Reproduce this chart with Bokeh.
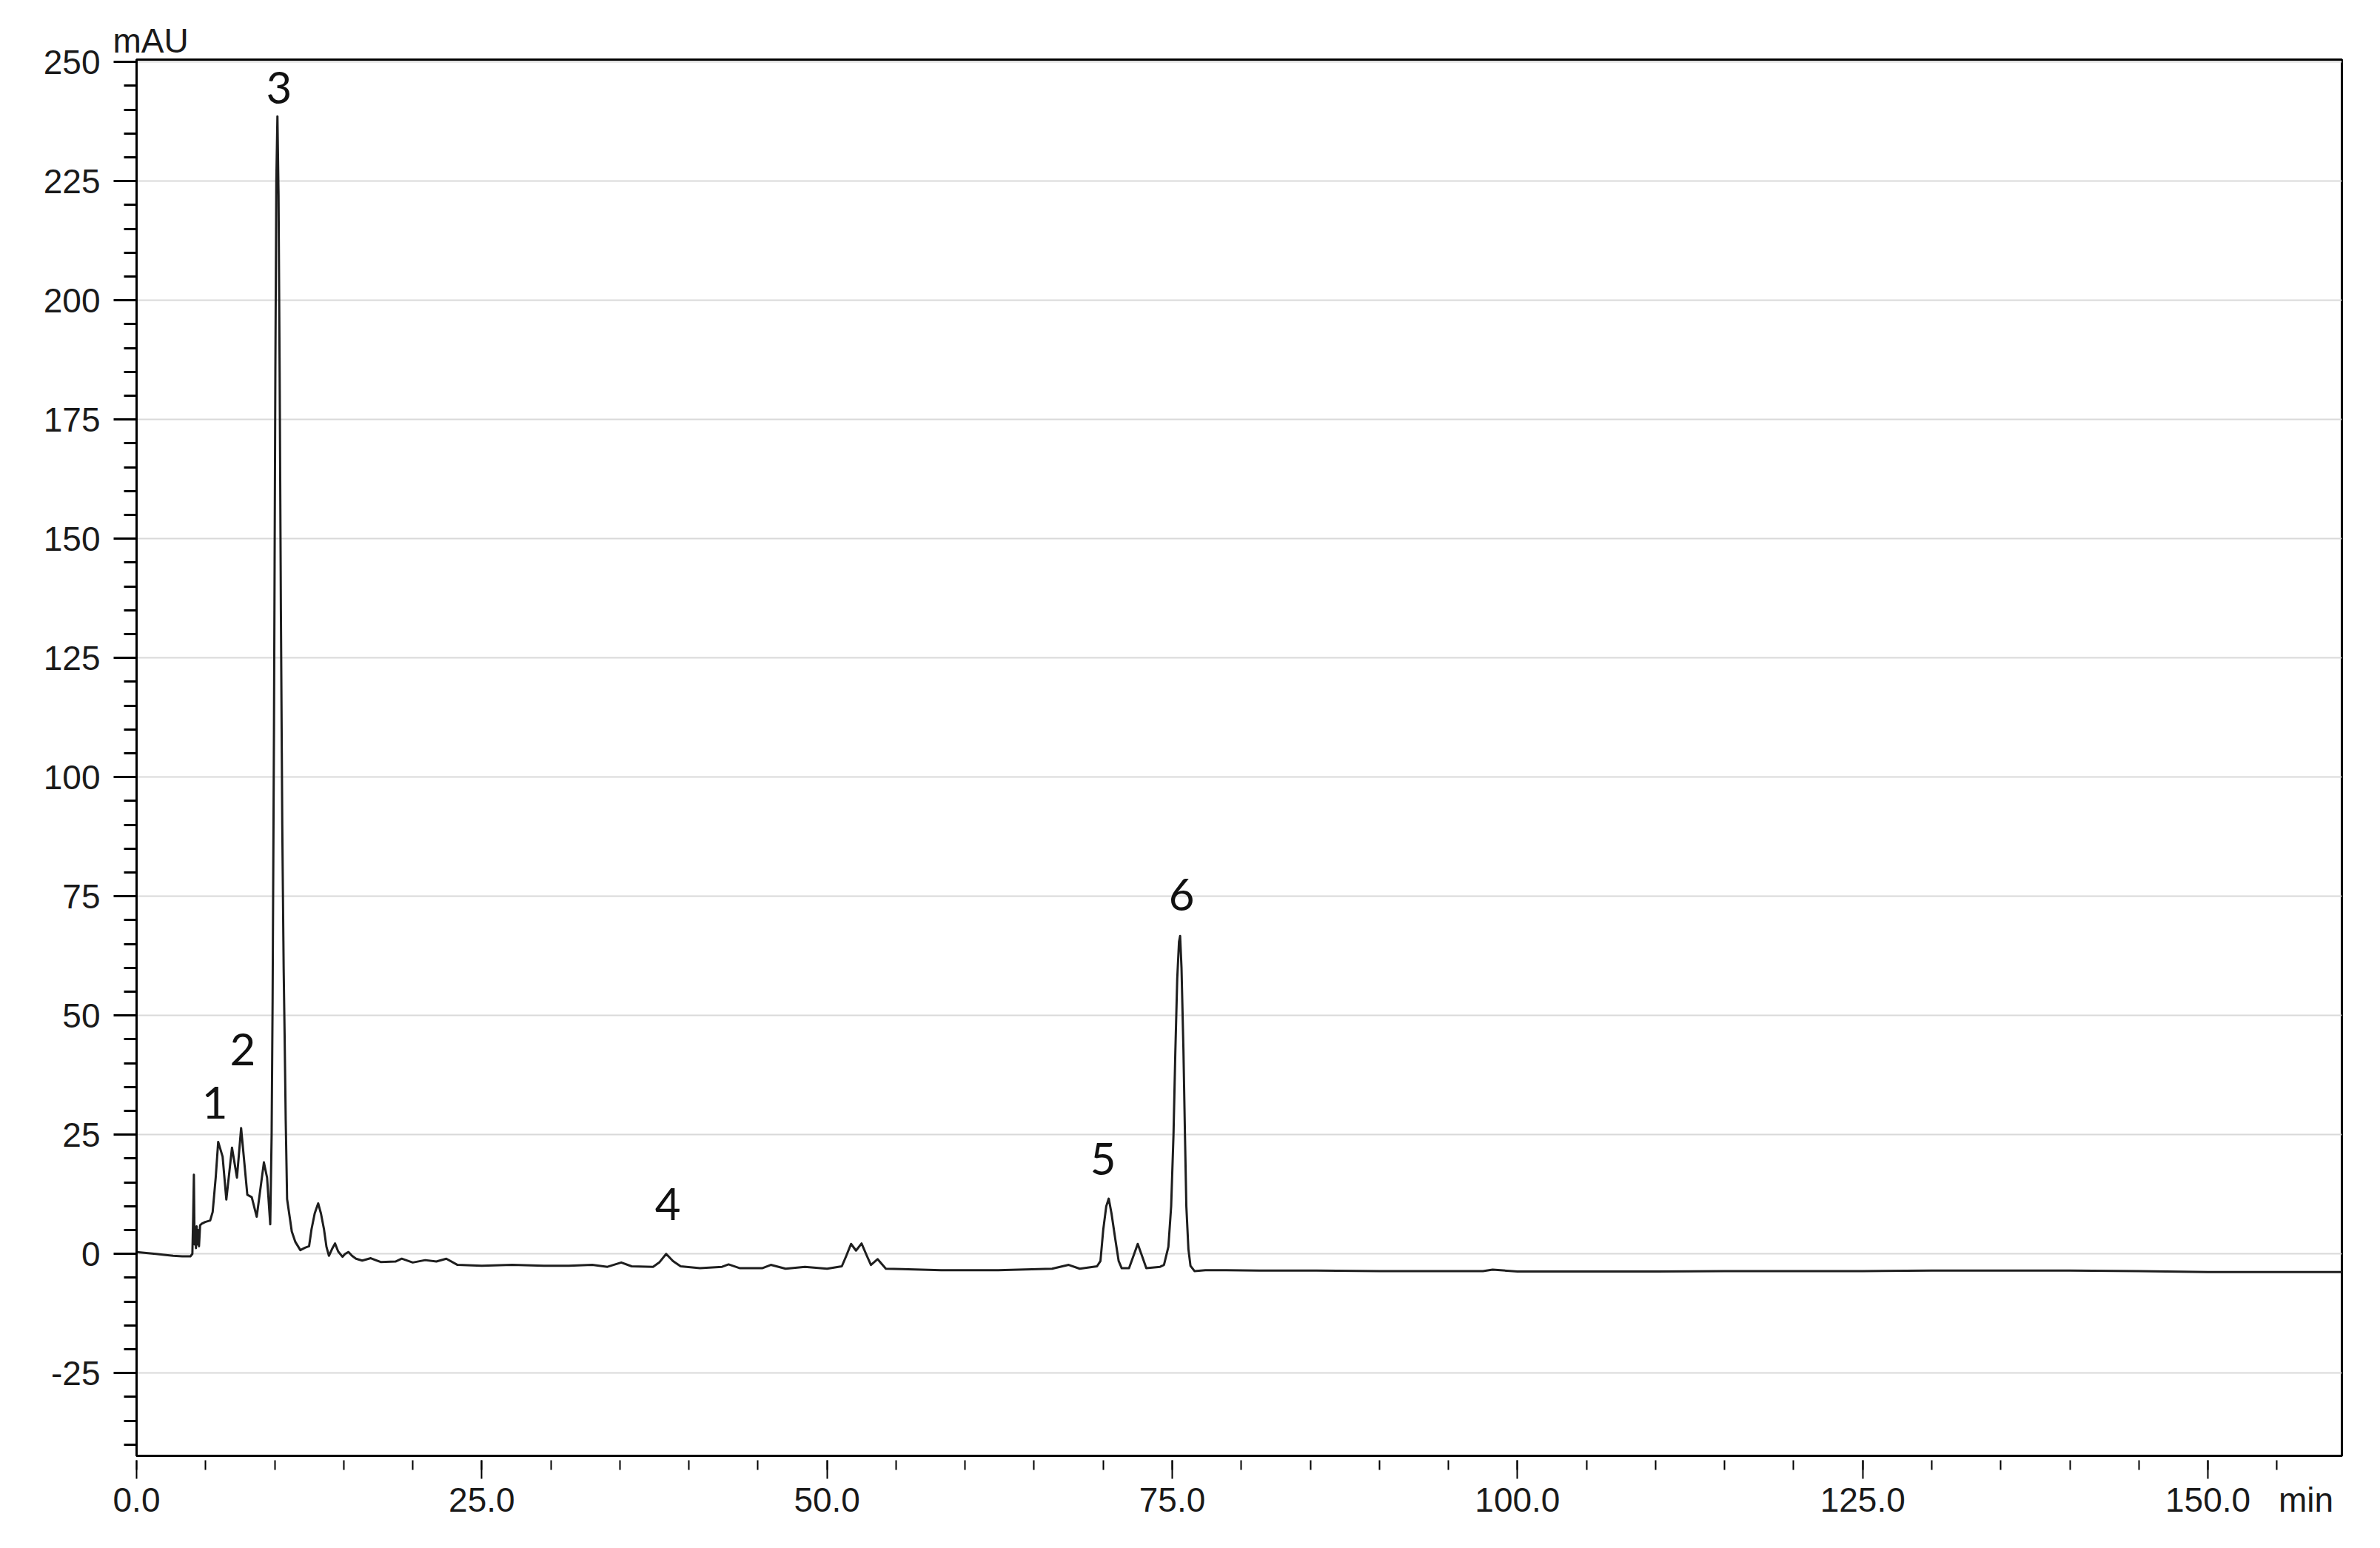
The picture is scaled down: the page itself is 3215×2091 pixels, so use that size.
from bokeh.plotting import figure
from bokeh.models import (SingleIntervalTicker, FixedTicker, NumeralTickFormatter, Range1d,
                          ColumnDataSource, LinearAxis)
from bokeh.core.properties import value
from bokeh.embed import file_html
from bokeh.resources import INLINE

# Chromatogram trace (retention time in min, absorbance in mAU)
time_min = [
    0.0, 0.7, 1.4, 2.0, 2.65, 3.3, 3.9, 4.04, 4.10, 4.15, 4.20, 4.25, 4.30, 4.35, 4.40,
    4.46, 4.52, 4.60, 4.70, 4.97, 5.33, 5.51, 5.73, 5.91, 6.23, 6.50, 6.91, 7.27, 7.57,
    8.02, 8.34, 8.70, 9.22, 9.45, 9.68, 9.78, 9.85, 9.95, 10.05, 10.12, 10.20, 10.28,
    10.36, 10.45, 10.55, 10.65, 10.72, 10.80, 10.90, 11.24, 11.50, 11.86, 12.20, 12.49,
    12.67, 12.90, 13.15, 13.35, 13.57, 13.75, 13.93, 14.15, 14.37, 14.60, 14.91, 15.10,
    15.35, 15.60, 15.89, 16.34, 16.96, 17.68, 18.75, 19.20, 20.00, 20.90, 21.71, 22.43,
    23.24, 25.00, 27.20, 29.50, 31.30, 33.00, 34.10, 35.10, 35.85, 37.40, 37.85, 38.35,
    38.85, 39.40, 40.80, 42.40, 42.87, 43.70, 45.30, 45.93, 47.00, 48.40, 50.00, 51.07,
    51.38, 51.74, 52.10, 52.50, 52.90, 53.18, 53.66, 54.26, 55.40, 58.26, 62.40, 66.30,
    67.50, 68.30, 69.55, 69.80, 70.00, 70.22, 70.40, 70.60, 70.88, 71.12, 71.34, 71.87,
    72.18, 72.50, 72.82, 73.12, 74.12, 74.40, 74.72, 74.92, 75.09, 75.22, 75.36, 75.49,
    75.57, 75.67, 75.81, 75.92, 76.02, 76.17, 76.32, 76.61, 77.40, 78.90, 81.30, 85.00,
    90.00, 93.80, 97.50, 98.20, 100.0, 105.0, 110.0, 115.0, 120.0, 125.0, 130.0, 135.0,
    140.0, 145.0, 150.0, 155.0, 159.7,
]
signal_mau = [
    0.4, 0.2, 0.0, -0.2, -0.4, -0.5, -0.5, 0.0, 8.0, 16.6, 2.0, 5.5, 1.2, 5.8, 2.0,
    5.0, 1.6, 6.0, 6.3, 6.7, 7.0, 8.8, 16.0, 23.5, 20.4, 11.4, 22.3, 16.0, 26.4,
    12.4, 11.9, 7.8, 19.2, 16.0, 6.2, 25.0, 53.0, 110.0, 185.0, 225.0, 238.6, 222.0,
    185.0, 135.0, 90.0, 60.0, 46.0, 28.0, 11.5, 4.7, 2.5, 0.8, 1.3, 1.6,
    5.2, 8.5, 10.6, 8.5, 5.2, 1.5, -0.4, 1.0, 2.2, 0.5, -0.6, 0.0,
    0.4, -0.4, -1.0, -1.4, -0.9, -1.7, -1.6, -1.0, -1.8, -1.3, -1.6, -1.0,
    -2.3, -2.5, -2.3, -2.5, -2.5, -2.3, -2.7, -1.8, -2.6, -2.7, -1.8, 0.0,
    -1.5, -2.6, -3.0, -2.7, -2.2, -3.0, -3.0, -2.3, -3.1, -2.7, -3.1, -2.6,
    -0.5, 2.1, 0.7, 2.2, -0.5, -2.3, -1.1, -3.1, -3.2, -3.4, -3.4, -3.1,
    -2.3, -3.1, -2.6, -1.5, 5.0, 10.0, 11.6, 8.5, 3.0, -1.5, -3.0, -3.0,
    -0.5, 2.1, -0.5, -3.0, -2.7, -2.3, 1.5, 10.0, 25.0, 42.0, 57.7, 65.5,
    66.7, 60.0, 42.7, 25.0, 10.0, 1.0, -2.5, -3.6, -3.4, -3.4, -3.5, -3.5,
    -3.6, -3.6, -3.6, -3.3, -3.7, -3.7, -3.7, -3.6, -3.6, -3.6, -3.5, -3.5,
    -3.5, -3.6, -3.8, -3.8, -3.8,
]

# Peak numbers and where they are written (centre of each number)
peak_ids = ["1", "2", "3", "4", "5", "6"]
peak_label_time = [5.67, 7.69, 10.31, 38.47, 70.0, 75.68]
peak_label_mau = [31.7, 42.95, 244.6, 10.45, 19.9, 75.4]

# x tick labels, plus the unit written on the same row at the right end
x_label_ticks = [0, 25, 50, 75, 100, 125, 150]
x_unit = "min"
x_unit_pos = 157.1
y_unit = "mAU"

FONT = "Liberation Sans"
INK = "#1a1a1a"

p = figure(
    width=3200, height=2075,
    x_range=Range1d(0, 159.7), y_range=Range1d(-42.35, 250.5),
    output_backend="svg", toolbar_location=None,
    min_border_left=184, min_border_right=37, min_border_top=80, min_border_bottom=109,
)
# y unit written as a left-aligned title just above the frame
p.title.text = y_unit
p.title.align = "left"
p.title.offset = -32
p.title.standoff = 0
p.title.text_font = FONT
p.title.text_font_size = "46px"
p.title.text_font_style = "normal"
p.title.text_color = INK

p.background_fill_color = "white"
p.border_fill_color = "white"
p.outline_line_color = "black"
p.outline_line_width = 3

# x axis: line and tick marks only
xa = p.xaxis[0]
xa.ticker = SingleIntervalTicker(interval=25, num_minor_ticks=5)
xa.axis_line_width = 3
xa.axis_line_color = "black"
xa.major_tick_line_width = 2
xa.minor_tick_line_width = 2
xa.major_tick_line_color = "black"
xa.minor_tick_line_color = "black"
xa.major_tick_in = -6
xa.major_tick_out = 31
xa.minor_tick_in = -6
xa.minor_tick_out = 19
xa.major_label_standoff = 0
xa.major_label_text_font_size = "0px"
xa.major_label_text_color = None

# x tick labels row (with the unit) as a second, mark-less axis just below
xl = LinearAxis(
    ticker=FixedTicker(ticks=x_label_ticks + [x_unit_pos], minor_ticks=[]),
    formatter=NumeralTickFormatter(format="0.0"),
    major_label_overrides={x_unit_pos: x_unit},
    axis_line_color=None, major_tick_line_color=None, minor_tick_line_color=None,
    major_tick_in=0, major_tick_out=0, minor_tick_in=0, minor_tick_out=0,
    major_label_standoff=2, major_label_text_font=FONT,
    major_label_text_font_size="46px", major_label_text_color=INK,
)
p.add_layout(xl, "below")

# y axis
ya = p.yaxis[0]
ya.ticker = SingleIntervalTicker(interval=25, num_minor_ticks=5)
ya.formatter = NumeralTickFormatter(format="0")
ya.axis_line_width = 3
ya.axis_line_color = "black"
ya.major_tick_line_width = 3
ya.minor_tick_line_width = 3
ya.major_tick_line_color = "black"
ya.minor_tick_line_color = "black"
ya.major_tick_in = 0
ya.major_tick_out = 31
ya.minor_tick_in = 0
ya.minor_tick_out = 17
ya.major_label_standoff = 18
ya.major_label_text_font = FONT
ya.major_label_text_font_size = "46px"
ya.major_label_text_color = INK

p.xgrid.visible = False
p.ygrid.grid_line_color = "#d9d9d9"
p.ygrid.grid_line_width = 2

p.line(time_min, signal_mau, line_color="#1e1e1e", line_width=3, line_join="round")

src = ColumnDataSource(dict(x=peak_label_time, y=peak_label_mau, t=peak_ids))
p.text(x="x", y="y", text="t", source=src, text_font=value("Lato"),
       text_font_size="60px", text_color="#111111",
       text_align="center", text_baseline="middle")

open("out.html", "w").write(file_html(p, INLINE))
